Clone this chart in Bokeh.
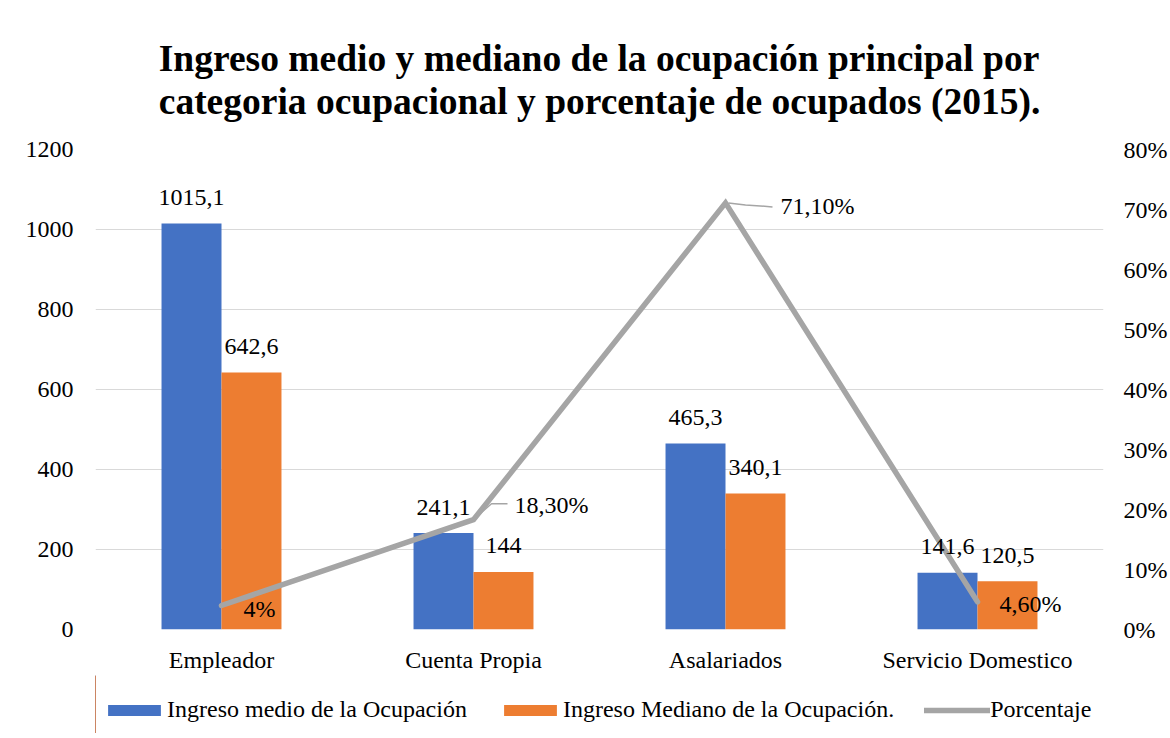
from bokeh.plotting import figure
from bokeh.layouts import column
from bokeh.models import (Range1d, LinearAxis, FixedTicker, PrintfTickFormatter,
                          Title, Legend, LegendItem)
from bokeh.embed import file_html
from bokeh.resources import INLINE
from bokeh.core.properties import value

# ---------------- data ----------------
categories = ["Empleador", "Cuenta Propia", "Asalariados", "Servicio Domestico"]
ingreso_medio = [1015.1, 241.1, 465.3, 141.6]
ingreso_mediano = [642.6, 144.0, 340.1, 120.5]
porcentaje = [4.0, 18.3, 71.1, 4.6]
medio_labels = ["1015,1", "241,1", "465,3", "141,6"]
mediano_labels = ["642,6", "144", "340,1", "120,5"]
porcentaje_labels = ["4%", "18,30%", "71,10%", "4,60%"]
left_ticks = [0, 200, 400, 600, 800, 1000, 1200]
right_ticks = [0, 10, 20, 30, 40, 50, 60, 70, 80]
series_names = ["Ingreso medio de la Ocupación", "Ingreso Mediano de la Ocupación.", "Porcentaje"]
title_lines = ["Ingreso medio y mediano de la ocupación principal por",
               "categoria ocupacional y porcentaje de ocupados (2015)."]

# ---------------- style ----------------
FONT = "Liberation Serif"
FS = "24px"
BLUE = "#4472C4"
ORANGE = "#ED7D31"
GRAY = "#A5A5A5"
GRID = "#D9D9D9"

FW, FH = 1008, 480
p = figure(frame_width=FW, frame_height=FH, x_range=Range1d(0, 4), y_range=Range1d(0, 1200),
           output_backend="svg", toolbar_location=None,
           min_border_left=95, min_border_right=65, min_border_top=149, min_border_bottom=46)
p.outline_line_color = None
p.extra_y_ranges = {"pct": Range1d(0, 80)}

n = len(categories)
xs = [i + 0.5 for i in range(n)]
bw = 0.238
x_blue = [x - bw / 2 for x in xs]
x_orange = [x + bw / 2 for x in xs]

r_blue = p.vbar(x=x_blue, top=ingreso_medio, width=bw, fill_color=BLUE, line_color=None)
r_orange = p.vbar(x=x_orange, top=ingreso_mediano, width=bw, fill_color=ORANGE, line_color=None)
r_line = p.line(xs, porcentaje, y_range_name="pct", line_color=GRAY, line_width=5.5,
                line_cap="round", line_join="miter")

# bar labels
p.text(x=x_blue, y=ingreso_medio, text=medio_labels, text_align="center",
       text_baseline="alphabetic", y_offset=-26, text_font=value(FONT),
       text_font_size=FS, text_color="black")
p.text(x=x_orange, y=ingreso_mediano, text=mediano_labels, text_align="center",
       text_baseline="alphabetic", y_offset=-26, text_font=value(FONT),
       text_font_size=FS, text_color="black")

# percentage labels (pixel offsets)
pct_dx = [22, 41, 55, 22]
pct_dy = [3, -15, 3, 2]
p.text(x=xs, y=porcentaje, text=porcentaje_labels, y_range_name="pct",
       x_offset=pct_dx, y_offset=pct_dy, text_align="left", text_baseline="middle",
       text_font=value(FONT), text_font_size=FS, text_color="black")

# leader lines for two labels (pixel offsets converted to data units)
pxu = FW / 4.0        # px per x unit
pyu = FH / 80.0       # px per percent unit
i1, i2 = 1, 2
p.line([xs[i1] + 2 / pxu, xs[i1] + 18 / pxu, xs[i1] + 34 / pxu],
       [porcentaje[i1] + 2 / pyu, porcentaje[i1] + 16 / pyu, porcentaje[i1] + 16 / pyu],
       y_range_name="pct", line_color=GRAY, line_width=1.5)
p.line([xs[i2] + 3 / pxu, xs[i2] + 20 / pxu, xs[i2] + 47 / pxu],
       [porcentaje[i2] - 0 / pyu, porcentaje[i2] - 2 / pyu, porcentaje[i2] - 4 / pyu],
       y_range_name="pct", line_color=GRAY, line_width=1.5)

# axes
p.xgrid.visible = False
p.ygrid.grid_line_color = GRID
p.ygrid.grid_line_width = 1

yax = p.yaxis[0]
yax.ticker = FixedTicker(ticks=left_ticks)
yax.major_label_standoff = 22

rax = LinearAxis(y_range_name="pct", ticker=FixedTicker(ticks=right_ticks),
                 formatter=PrintfTickFormatter(format="%d%%"))
rax.major_label_standoff = 20
p.add_layout(rax, "right")

xax = p.xaxis[0]
xax.ticker = FixedTicker(ticks=xs)
xax.major_label_overrides = {x: c for x, c in zip(xs, categories)}
xax.major_label_standoff = 17

for ax in (yax, rax, xax):
    ax.axis_line_color = None
    ax.major_tick_line_color = None
    ax.minor_tick_line_color = None
    ax.major_tick_out = 0
    ax.major_tick_in = 0
    ax.major_label_text_font = FONT
    ax.major_label_text_font_size = FS
    ax.major_label_text_color = "black"

# two-line title
p.title = Title(text="\n".join(title_lines), align="center", text_font=FONT,
                text_font_size="37.5px", text_font_style="bold", text_color="black",
                text_line_height=1.05, standoff=54)

# ---------------- legend strip under the chart ----------------
# same series drawn outside the strip's visible x range, only so the legend has swatches
LH = 58
q = figure(width=FW + 95 + 65, height=LH, x_range=Range1d(50, 51), y_range=Range1d(0, 1),
           output_backend="svg", toolbar_location=None,
           min_border_left=95, min_border_right=65, min_border_top=0, min_border_bottom=0)
q.outline_line_color = None
q.axis.visible = False
q.grid.visible = False
s_blue = q.vbar(x=x_blue, top=ingreso_medio, width=bw, fill_color=BLUE, line_color=None)
s_orange = q.vbar(x=x_orange, top=ingreso_mediano, width=bw, fill_color=ORANGE, line_color=None)
s_line = q.line(xs, porcentaje, line_color=GRAY, line_width=5.5, line_cap="round")

legend = Legend(items=[LegendItem(label=series_names[0], renderers=[s_blue]),
                       LegendItem(label=series_names[1], renderers=[s_orange]),
                       LegendItem(label=series_names[2], renderers=[s_line])],
                location=(6, 10), orientation="horizontal",
                glyph_width=66, glyph_height=14, label_standoff=0, spacing=30,
                padding=0, margin=0, border_line_color=None, background_fill_alpha=0,
                label_text_font=FONT, label_text_font_size=FS, label_text_color="black")
q.add_layout(legend)

open("out.html", "w").write(file_html(column(p, q, spacing=0), INLINE))
